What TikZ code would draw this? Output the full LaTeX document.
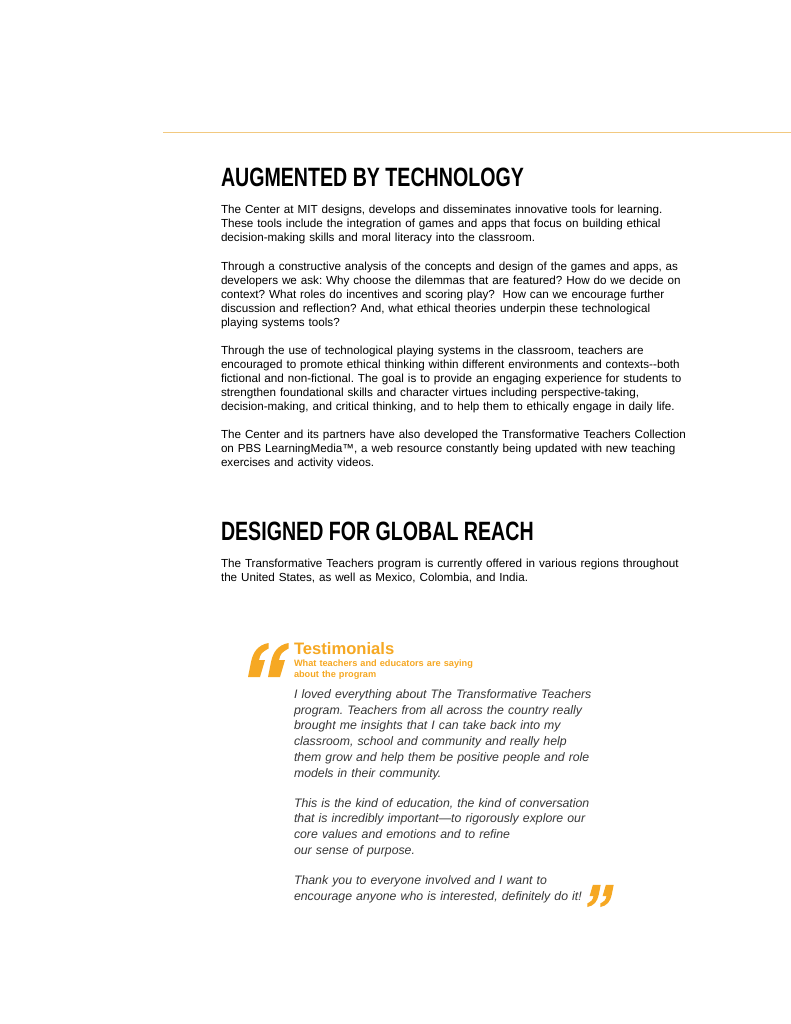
\documentclass[tikz,border=0pt]{standalone}
\usepackage{fontspec}
\setmainfont{Liberation Sans}
\newfontfamily\headfont[FakeStretch=0.74]{Liberation Sans Bold}
\definecolor{rulegold}{RGB}{242,201,128}
\definecolor{testorange}{RGB}{246,168,35}
\definecolor{quotegray}{RGB}{55,55,55}
\frenchspacing
\begin{document}
\begin{tikzpicture}[x=1pt,y=-1pt,
  every node/.style={inner sep=0pt,outer sep=0pt},
  heading/.style={anchor=base west,font=\headfont\fontsize{26.5}{30}\selectfont},
  body/.style={anchor=base west,text width=560pt,align=left,font=\frenchspacing\fontsize{11.68}{14}\selectfont},
  quotetext/.style={anchor=base west,text width=420pt,align=left,text=quotegray,font=\frenchspacing\itshape\fontsize{12.3}{15.7}\selectfont},
  quotemark/.style={fill=testorange,draw=none}]
\useasboundingbox (0,0) rectangle (791,1024);
\fill[white] (0,0) rectangle (791,1024);
% top rule
\coordinate (ruleL) at (163,133);
\coordinate (ruleR) at (791,133);
\draw[rulegold,line width=1pt] (ruleL) -- (ruleR);

\node[heading] (h1) at (221,187) {AUGMENTED BY TECHNOLOGY};

\node[body] (p1) at (221,214) {The Center at MIT designs, develops and disseminates innovative tools for learning.\\
These tools include the integration of games and apps that focus on building ethical\\
decision-making skills and moral literacy into the classroom.};

\node[body] (p2) at (221,270) {Through a constructive analysis of the concepts and design of the games and apps, as\\
developers we ask: Why choose the dilemmas that are featured? How do we decide on\\
context? What roles do incentives and scoring play?\ \ How can we encourage further\\
discussion and reflection? And, what ethical theories underpin these technological\\
playing systems tools?};

\node[body] (p3) at (221,354) {Through the use of technological playing systems in the classroom, teachers are\\
encouraged to promote ethical thinking within different environments and contexts-{}-both\\
fictional and non-fictional. The goal is to provide an engaging experience for students to\\
strengthen foundational skills and character virtues including perspective-taking,\\
decision-making, and critical thinking, and to help them to ethically engage in daily life.};

\node[body] (p4) at (221,438) {The Center and its partners have also developed the Transformative Teachers Collection\\
on PBS LearningMedia™, a web resource constantly being updated with new teaching\\
exercises and activity videos.};

\node[heading] (h2) at (221,540) {DESIGNED FOR GLOBAL REACH};

\node[body] (p5) at (221,567) {The Transformative Teachers program is currently offered in various regions throughout\\
the United States, as well as Mexico, Colombia, and India.};

% opening quote mark
\begin{scope}[shift={(248,643)}]
  \foreach \dx in {0,20} {
    \fill[quotemark] (\dx+0,34) -- (\dx+12,34) -- (\dx+17,17) -- (\dx+11,17)
      .. controls (\dx+13,10) .. (\dx+20.5,5.5) -- (\dx+20.5,0)
      .. controls (\dx+10,2) and (\dx+5,9) .. (\dx+3,19) -- cycle;
  }
\end{scope}

\node[anchor=base west,text=testorange,font=\bfseries\fontsize{16.6}{18}\selectfont] (ttl) at (294,654) {Testimonials};
\node[anchor=base west,text width=250pt,align=left,text=testorange,font=\bfseries\fontsize{9.2}{10.5}\selectfont] (sub) at (294,666.5) {What teachers and educators are saying\\about the program};

\node[quotetext] (q1) at (294,698.5) {I loved everything about The Transformative Teachers\\
program. Teachers from all across the country really\\
brought me insights that I can take back into my\\
classroom, school and community and really help\\
them grow and help them be positive people and role\\
models in their community.};

\node[quotetext] (q2) at (294,807) {This is the kind of education, the kind of conversation\\
that is incredibly important—to rigorously explore our\\
core values and emotions and to refine\\
our sense of purpose.};

\node[quotetext] (q3) at (294,884.5) {Thank you to everyone involved and I want to\\
encourage anyone who is interested, definitely do it!};

% closing quote mark
\begin{scope}[shift={(600.5,896)},rotate=180,scale=0.65,shift={(-20.25,-17)}]
  \foreach \dx in {0,20} {
    \fill[quotemark] (\dx+0,34) -- (\dx+12,34) -- (\dx+17,17) -- (\dx+11,17)
      .. controls (\dx+13,10) .. (\dx+20.5,5.5) -- (\dx+20.5,0)
      .. controls (\dx+10,2) and (\dx+5,9) .. (\dx+3,19) -- cycle;
  }
\end{scope}
\end{tikzpicture}
\end{document}
